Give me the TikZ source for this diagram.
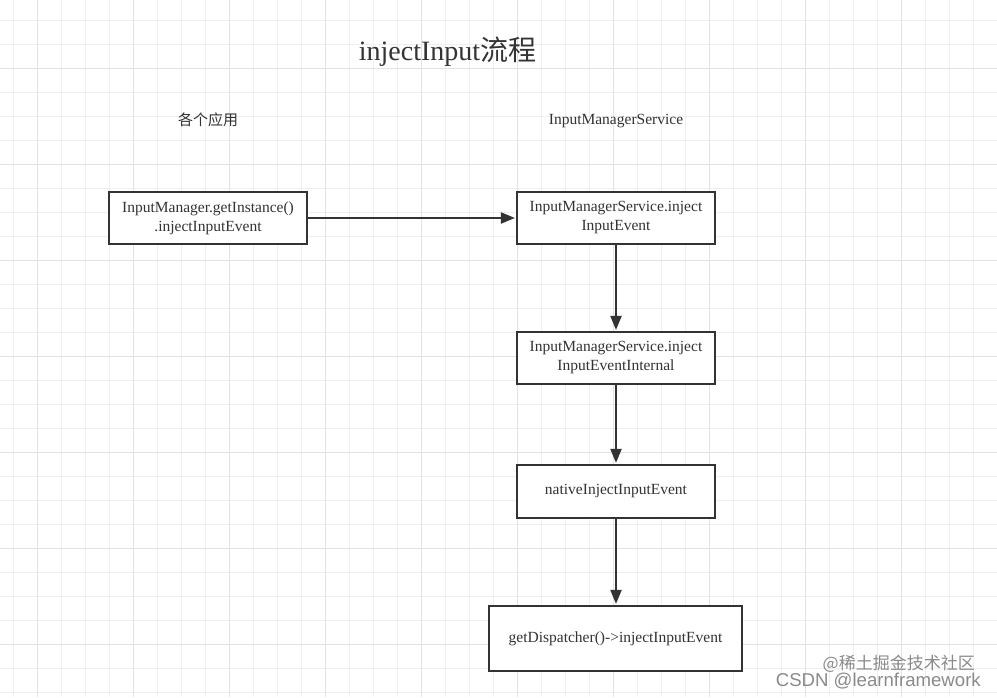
\documentclass[tikz,border=0pt]{standalone}
\usepackage{fontspec}
\setmainfont{Liberation Serif}
\newfontfamily\cjk{Noto Sans CJK SC}
\newfontfamily\wmfont{Liberation Sans}
\usetikzlibrary{arrows.meta}
\definecolor{gridminor}{HTML}{EFEFEF}
\definecolor{gridmajor}{HTML}{E2E2E2}
\definecolor{ink}{HTML}{333333}
\definecolor{wm}{HTML}{8A8A8A}
\tikzset{
  box/.style={draw=ink, line width=2.2pt, fill=white, inner sep=0pt, align=center,
    text=ink, font=\fontsize{15.5}{19}\selectfont},
  flow/.style={draw=ink, line width=2pt, -{Triangle[length=14pt,width=11pt]}, shorten >=1pt},
  lbl/.style={text=ink, font=\fontsize{15.5}{19}\selectfont},
  wmtext/.style={text=wm, inner sep=0pt}
}
\begin{document}
\begin{tikzpicture}[x=1pt,y=-1pt]
\useasboundingbox (0,0) rectangle (997,697);
\fill[white] (0,0) rectangle (997,697);
% grid
\foreach \gx in {13.3,37.3,...,997} \draw[gridminor, line width=0.8pt] (\gx,0) -- (\gx,697);
\foreach \gy in {20,44,...,697} \draw[gridminor, line width=0.8pt] (0,\gy) -- (997,\gy);
\foreach \gx in {37.3,133.3,...,997} \draw[gridmajor, line width=1pt] (\gx,0) -- (\gx,697);
\foreach \gy in {68,164,...,697} \draw[gridmajor, line width=1pt] (0,\gy) -- (997,\gy);
% title and lane labels
\node[text=ink, font=\fontsize{28}{32}\selectfont] (title) at (447.5,51.5) {injectInput{\cjk 流程}};
\node[lbl] (lapp) at (208,120) {\cjk\fontsize{15}{18}\selectfont 各个应用};
\node[lbl] (lims) at (616,121.5) {InputManagerService};
% boxes
\node[box, minimum width=198pt, minimum height=52pt] (a) at (208,218) {InputManager.getInstance()\\.injectInputEvent};
\node[box, minimum width=198pt, minimum height=52pt] (b) at (616,218) {InputManagerService.inject\\InputEvent};
\node[box, minimum width=198pt, minimum height=52pt] (c) at (616,358) {InputManagerService.inject\\InputEventInternal};
\node[box, minimum width=198pt, minimum height=53pt] (d) at (616,491.5) {nativeInjectInputEvent};
\node[box, minimum width=253pt, minimum height=65pt] (e) at (615.5,638.5) {getDispatcher()->injectInputEvent};
% connectors
\draw[flow] (a) -- (b);
\draw[flow] (b) -- (c);
\draw[flow] (c) -- (d);
\draw[flow] (d.south) -- (d.south |- e.north);
% watermark
\node[wmtext, font=\cjk\fontsize{17}{20}\selectfont, anchor=east] (wm1) at (975,663.5) {@稀土掘金技术社区};
\node[wmtext, font=\wmfont\fontsize{18.6}{21}\selectfont, anchor=east] (wm2) at (981,681) {CSDN @learnframework};
\end{tikzpicture}
\end{document}
